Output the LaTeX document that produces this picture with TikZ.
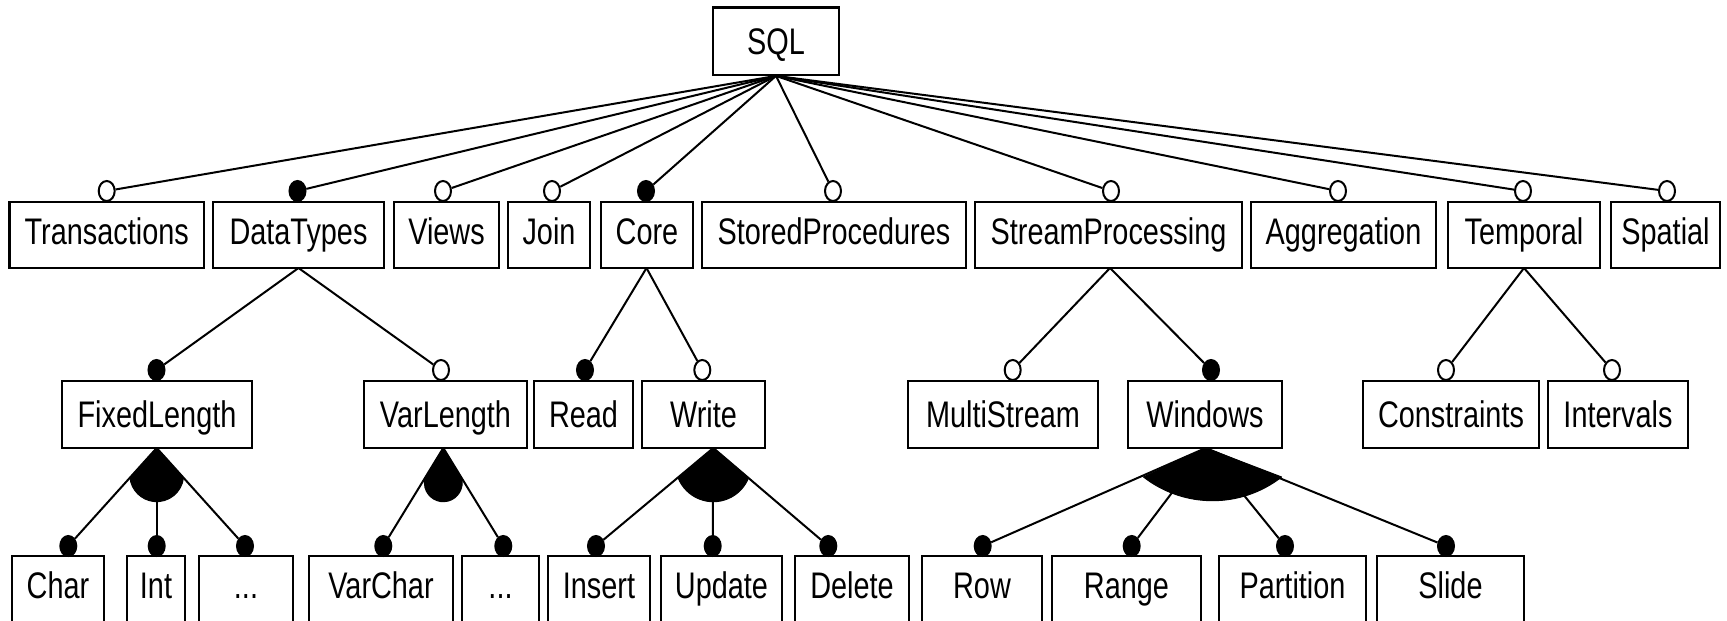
\documentclass[tikz,border=0pt]{standalone}
\usepackage{fontspec}
\setmainfont{Liberation Sans}[FakeStretch=0.78]
\usetikzlibrary{shapes.geometric}

% feature box: #1 style, #2 name, #3 left x, #4 right x, #5 centre y, #6 label
\newcommand\featbox[6]{%
  \node[#1, minimum width={(#4)-(#3)}] (#2) at ({((#3)+(#4))/2},#5) {#6};}

\begin{document}
\begin{tikzpicture}[x=1pt,y=-1pt,
  font=\fontsize{37}{40}\selectfont,
  feat/.style={draw, line width=2.4pt, inner sep=0pt, text height=26.6pt,
               text depth=8pt, minimum height=66pt},
  featc/.style={feat, text depth=0pt, minimum height=67pt},
  featlow/.style={feat, minimum height=67pt},
  link/.style={line width=2pt},
  knob/.style={ellipse, draw, line width=2pt, inner sep=0pt,
               minimum width=16pt, minimum height=20pt},
  opt/.style={knob, fill=white},
  mand/.style={knob, fill=black},
  orgroup/.style={fill=black, draw, line width=1pt, line join=round}
]
\fill[white] (0,0) rectangle (1727,621);
\useasboundingbox (0,0) rectangle (1727,621);
\clip (0,0) rectangle (1727,621);

% root
\node[featc, minimum width=126pt, minimum height=67.4pt] (SQL) at (776,41) {SQL};

% first level
\featbox{feat}{Transactions}{9.5}{204}{235}{Transactions}
\featbox{feat}{DataTypes}{213}{384}{235}{DataTypes}
\featbox{feat}{Views}{394}{499}{235}{Views}
\featbox{feat}{Join}{508}{590}{235}{Join}
\featbox{feat}{Core}{601}{693}{235}{Core}
\featbox{feat}{StoredProcedures}{702}{966}{235}{StoredProcedures}
\featbox{feat}{StreamProcessing}{975}{1242}{235}{StreamProcessing}
\featbox{feat}{Aggregation}{1251}{1436}{235}{Aggregation}
\featbox{feat}{Temporal}{1448}{1600}{235}{Temporal}
\featbox{feat}{Spatial}{1611}{1720}{235}{Spatial}

% second level
\featbox{featc}{FixedLength}{62}{252}{414.5}{FixedLength}
\featbox{featc}{VarLength}{364}{527}{414.5}{VarLength}
\featbox{featc}{Read}{534}{633}{414.5}{Read}
\featbox{featc}{Write}{642}{765}{414.5}{Write}
\featbox{featc}{MultiStream}{908}{1098}{414.5}{MultiStream}
\featbox{featc}{Windows}{1128}{1282}{414.5}{Windows}
\featbox{featc}{Constraints}{1363}{1539}{414.5}{Constraints}
\featbox{featc}{Intervals}{1548}{1688}{414.5}{Intervals}

% third level
\featbox{featlow}{Char}{12}{104}{589.5}{Char}
\featbox{featlow}{Int}{127}{185}{589.5}{Int}
\featbox{featlow}{FixedMore}{199}{293}{589.5}{...}
\featbox{featlow}{VarChar}{309}{453}{589.5}{VarChar}
\featbox{featlow}{VarMore}{462}{539}{589.5}{...}
\featbox{featlow}{Insert}{548}{650}{589.5}{Insert}
\featbox{featlow}{Update}{661}{782}{589.5}{Update}
\featbox{featlow}{Delete}{795}{909}{589.5}{Delete}
\featbox{featlow}{Row}{922}{1042}{589.5}{Row}
\featbox{featlow}{Range}{1052}{1201}{589.5}{Range}
\featbox{featlow}{Partition}{1219}{1366}{589.5}{Partition}
\featbox{featlow}{Slide}{1377}{1524}{589.5}{Slide}

% attachment points under the parents
\coordinate (DataTypes-g) at (298.5,268);
\coordinate (Core-g) at (646.5,268);
\coordinate (StreamProcessing-g) at (1110,268);
\coordinate (Temporal-g) at (1524,268);
\coordinate (FixedLength-g) at (156.7,448);
\coordinate (VarLength-g) at (443.3,448);
\coordinate (Write-g) at (713.3,448);
\coordinate (Windows-g) at (1205.7,448);

% or-group sectors
\fill[orgroup] (FixedLength-g) -- (183.5,477.7)
  arc[start angle=6.4, end angle=173.6, radius=26.96] -- cycle;
\fill[orgroup] (VarLength-g) -- (461.6,478.1)
  arc[start angle=-14.4, end angle=194.4, radius=18.9] -- cycle;
\fill[orgroup] (Write-g) -- (748.5,477.9)
  arc[start angle=21.8, end angle=158.2, radius=37.9] -- cycle;
\fill[orgroup] (Windows-g) -- (1281.6,477)
  arc[start angle=52.1, end angle=127.9, radius=112.4] -- cycle;

% optional / mandatory markers
\node[opt]  (Transactions-c)     at (106.7,191) {};
\node[mand] (DataTypes-c)        at (297.5,191) {};
\node[opt]  (Views-c)            at (443,191) {};
\node[opt]  (Join-c)             at (552,191) {};
\node[mand] (Core-c)             at (646,191) {};
\node[opt]  (StoredProcedures-c) at (833,191) {};
\node[opt]  (StreamProcessing-c) at (1111,191) {};
\node[opt]  (Aggregation-c)      at (1338,191) {};
\node[opt]  (Temporal-c)         at (1523,191) {};
\node[opt]  (Spatial-c)          at (1667,191) {};

\node[mand] (FixedLength-c) at (156.5,370) {};
\node[opt]  (VarLength-c)   at (441,370) {};
\node[mand] (Read-c)        at (585,370) {};
\node[opt]  (Write-c)       at (702.3,370) {};
\node[opt]  (MultiStream-c) at (1012.7,370) {};
\node[mand] (Windows-c)     at (1211,370) {};
\node[opt]  (Constraints-c) at (1446,370) {};
\node[opt]  (Intervals-c)   at (1612,370) {};

\node[mand] (Char-c)      at (68.3,546) {};
\node[mand] (Int-c)       at (156.7,546) {};
\node[mand] (FixedMore-c) at (245,546) {};
\node[mand] (VarChar-c)   at (383.3,546) {};
\node[mand] (VarMore-c)   at (503.3,546) {};
\node[mand] (Insert-c)    at (596,546) {};
\node[mand] (Update-c)    at (712.7,546) {};
\node[mand] (Delete-c)    at (828.3,546) {};
\node[mand] (Row-c)       at (982.7,546) {};
\node[mand] (Range-c)     at (1131.7,546) {};
\node[mand] (Partition-c) at (1285,546) {};
\node[mand] (Slide-c)     at (1446,546) {};

% connectors
\foreach \c in {Transactions,DataTypes,Views,Join,Core,StoredProcedures,
                StreamProcessing,Aggregation,Temporal,Spatial}
  \draw[link] (SQL.south) -- (\c-c);
\foreach \p/\c in {DataTypes/FixedLength, DataTypes/VarLength,
                   Core/Read, Core/Write,
                   StreamProcessing/MultiStream, StreamProcessing/Windows,
                   Temporal/Constraints, Temporal/Intervals,
                   FixedLength/Char, FixedLength/Int, FixedLength/FixedMore,
                   VarLength/VarChar, VarLength/VarMore,
                   Write/Insert, Write/Update, Write/Delete,
                   Windows/Row, Windows/Range, Windows/Partition, Windows/Slide}
  \draw[link] (\p-g) -- (\c-c);
\end{tikzpicture}
\end{document}
